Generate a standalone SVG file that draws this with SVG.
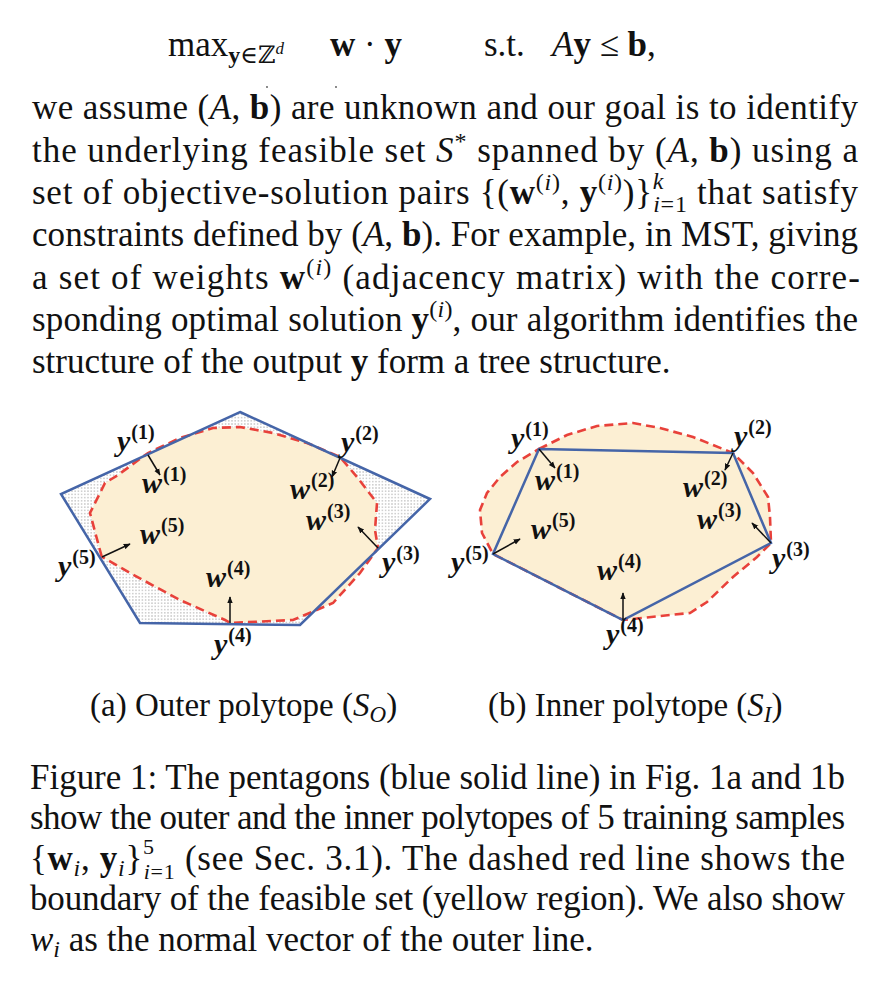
<svg xmlns="http://www.w3.org/2000/svg" width="876" height="998" viewBox="0 0 876 998">
<style>
.t{font-family:"Liberation Serif","DejaVu Serif",serif;font-size:35px;fill:#111}
.i{font-style:italic}
.b{font-weight:bold}
.s{font-size:24px}
.sc{font-family:"Liberation Serif","DejaVu Serif",serif;font-size:33px;fill:#111}
.lbl{font-family:"Liberation Serif","DejaVu Serif",serif;font-size:30px;font-weight:bold;font-style:italic;fill:#111}
.sup{font-size:20px;font-style:normal}
.pent{fill:none;stroke:#4565a8;stroke-width:2.5;stroke-linejoin:miter}
.feas{fill:#fcefd3;stroke:#e8413a;stroke-width:2.6;stroke-dasharray:9 5}
.arr{stroke:#111;stroke-width:1.5;fill:none;marker-end:url(#ah)}
</style>
<defs>
<pattern id="dots" width="3.2" height="3.2" patternUnits="userSpaceOnUse"><rect width="3.2" height="3.2" fill="#fff"/><circle cx="1.6" cy="1.6" r="0.6" fill="#8a8a8a"/></pattern>
<marker id="ah" viewBox="0 0 10 10" refX="9" refY="5" markerWidth="7" markerHeight="7" markerUnits="userSpaceOnUse" orient="auto"><path d="M0,1 L10,5 L0,9 z" fill="#111"/></marker>
</defs>
<rect width="876" height="998" fill="#fff"/>

<g id="body-text">
<text class="t" y="56"><tspan x="168">max</tspan><tspan class="s" dy="7"><tspan class="b">y</tspan>∈ℤ<tspan font-size="17" class="i" dy="-9">d</tspan></tspan><tspan x="330" dy="2" class="b">w</tspan> · <tspan class="b">y</tspan><tspan x="484">s.t.</tspan><tspan x="552" class="i">A</tspan><tspan class="b">y</tspan> ≤ <tspan class="b">b</tspan>,</text>
<circle cx="267" cy="87" r="0.9" fill="#555"/><circle cx="336" cy="87" r="0.9" fill="#555"/>
<text class="t" x="32" y="119" textLength="826" lengthAdjust="spacing">we assume (<tspan class="i">A</tspan>, <tspan class="b">b</tspan>) are unknown and our goal is to identify</text>
<text class="t" x="32" y="161.5" textLength="826" lengthAdjust="spacing">the underlying feasible set <tspan class="i">S</tspan><tspan class="s" dy="-13">*</tspan><tspan dy="13"> spanned by (</tspan><tspan class="i">A</tspan>, <tspan class="b">b</tspan>) using a</text>
<text class="t" x="32" y="204" textLength="826" lengthAdjust="spacing">set of objective-solution pairs {(<tspan class="b">w</tspan><tspan class="s" dy="-14">(<tspan class="i">i</tspan>)</tspan><tspan dy="14">, </tspan><tspan class="b">y</tspan><tspan class="s" dy="-14">(<tspan class="i">i</tspan>)</tspan><tspan dy="14">)}</tspan><tspan class="s i" dy="-15">k</tspan><tspan class="s" dx="-11" dy="23"><tspan class="i">i</tspan>=1</tspan><tspan dy="-8"> that satisfy</tspan></text>
<text class="t" x="32" y="246" textLength="826" lengthAdjust="spacing">constraints defined by (<tspan class="i">A</tspan>, <tspan class="b">b</tspan>). For example, in MST, giving</text>
<text class="t" x="32" y="288.5" textLength="828" lengthAdjust="spacing">a set of weights <tspan class="b">w</tspan><tspan class="s" dy="-14">(<tspan class="i">i</tspan>)</tspan><tspan dy="14"> (adjacency matrix) with the corre-</tspan></text>
<text class="t" x="32" y="331" textLength="826" lengthAdjust="spacing">sponding optimal solution <tspan class="b">y</tspan><tspan class="s" dy="-14">(<tspan class="i">i</tspan>)</tspan><tspan dy="14">, our algorithm identifies the</tspan></text>
<text class="t" x="32" y="373">structure of the output <tspan class="b">y</tspan> form a tree structure.</text>
</g>

<g id="fig-a">
<polygon id="outer-fill" points="240,412 430,499 300,625 140,623 61,494" fill="url(#dots)"/>
<polygon id="feasible-a" class="feas" points="101.7,556.7 90,513 105,483 118,475 148,453 180,438 213,428 240,427 273,433 307,443 340,457 357,477 377,503 375,530 378,548 360,573 333,603 293,620 230,623 225,620 180,600 130,573"/>
<polygon id="outer-polytope" class="pent" points="240,412 430,499 300,625 140,623 61,494"/>
</g>

<g id="fig-b">
<polygon id="feasible-b" class="feas" points="539,449 567,435 597,426 633,423 660,428 693,437 733,453 753,473 768,497 770,517 771,543 757,557 733,577 707,602 690,613 660,616 623,620 493,554 482,533 480,510 487,493 500,477 517,462"/>
<polygon id="inner-polytope" class="pent" points="539,449 733,453 771,543 623,620 493,554"/>
</g>

<g id="connectors">
<line class="arr" x1="148" y1="455" x2="160" y2="475"/>
<line class="arr" x1="340" y1="458" x2="332" y2="477"/>
<line class="arr" x1="378" y1="548" x2="358" y2="527"/>
<line class="arr" x1="230" y1="623" x2="230" y2="597"/>
<line class="arr" x1="102" y1="557" x2="130" y2="544"/>
<line class="arr" x1="539" y1="449" x2="555" y2="468"/>
<line class="arr" x1="733" y1="453" x2="725" y2="470"/>
<line class="arr" x1="771" y1="543" x2="752" y2="523"/>
<line class="arr" x1="623" y1="620" x2="623" y2="593"/>
<line class="arr" x1="493" y1="554" x2="520" y2="539"/>
</g>

<g id="labels-a">
<text class="lbl" x="117" y="451">y<tspan class="sup" dx="1" dy="-12">(1)</tspan></text>
<text class="lbl" x="142" y="493">w<tspan class="sup" dx="1" dy="-12">(1)</tspan></text>
<text class="lbl" x="341" y="452">y<tspan class="sup" dx="1" dy="-12">(2)</tspan></text>
<text class="lbl" x="290" y="499">w<tspan class="sup" dx="1" dy="-12">(2)</tspan></text>
<text class="lbl" x="306" y="530">w<tspan class="sup" dx="1" dy="-12">(3)</tspan></text>
<text class="lbl" x="382" y="572">y<tspan class="sup" dx="1" dy="-12">(3)</tspan></text>
<text class="lbl" x="140" y="544">w<tspan class="sup" dx="1" dy="-12">(5)</tspan></text>
<text class="lbl" x="58" y="576">y<tspan class="sup" dx="1" dy="-12">(5)</tspan></text>
<text class="lbl" x="206" y="587">w<tspan class="sup" dx="1" dy="-12">(4)</tspan></text>
<text class="lbl" x="214" y="654">y<tspan class="sup" dx="1" dy="-12">(4)</tspan></text>
</g>
<g id="labels-b">
<text class="lbl" x="511" y="448">y<tspan class="sup" dx="1" dy="-12">(1)</tspan></text>
<text class="lbl" x="535" y="490">w<tspan class="sup" dx="1" dy="-12">(1)</tspan></text>
<text class="lbl" x="734" y="446">y<tspan class="sup" dx="1" dy="-12">(2)</tspan></text>
<text class="lbl" x="683" y="497">w<tspan class="sup" dx="1" dy="-12">(2)</tspan></text>
<text class="lbl" x="697" y="529">w<tspan class="sup" dx="1" dy="-12">(3)</tspan></text>
<text class="lbl" x="772" y="568">y<tspan class="sup" dx="1" dy="-12">(3)</tspan></text>
<text class="lbl" x="531" y="539">w<tspan class="sup" dx="1" dy="-12">(5)</tspan></text>
<text class="lbl" x="451" y="572">y<tspan class="sup" dx="1" dy="-12">(5)</tspan></text>
<text class="lbl" x="597" y="580">w<tspan class="sup" dx="1" dy="-12">(4)</tspan></text>
<text class="lbl" x="606" y="644">y<tspan class="sup" dx="1" dy="-12">(4)</tspan></text>
</g>

<g id="subcaptions">
<text class="sc" x="90" y="716">(a) Outer polytope (<tspan class="i">S</tspan><tspan class="i" font-size="23" dy="6">O</tspan><tspan dy="-6">)</tspan></text>
<text class="sc" x="488" y="716">(b) Inner polytope (<tspan class="i">S</tspan><tspan class="i" font-size="23" dy="6">I</tspan><tspan dy="-6">)</tspan></text>
</g>

<g id="caption">
<text class="t" x="30" y="789" textLength="815" lengthAdjust="spacing">Figure 1: The pentagons (blue solid line) in Fig. 1a and 1b</text>
<text class="t" x="30" y="829" textLength="815" lengthAdjust="spacing">show the outer and the inner polytopes of 5 training samples</text>
<text class="t" x="30" y="870" textLength="815" lengthAdjust="spacing">{<tspan class="b">w</tspan><tspan class="s i" dy="6">i</tspan><tspan dy="-6">, </tspan><tspan class="b">y</tspan><tspan class="s i" dy="6">i</tspan><tspan dy="-6">}</tspan><tspan font-size="22" dy="-16">5</tspan><tspan font-size="22" dx="-11" dy="25"><tspan class="i">i</tspan>=1</tspan><tspan dy="-9"> (see Sec. 3.1). The dashed red line shows the</tspan></text>
<text class="t" x="30" y="910" textLength="815" lengthAdjust="spacing">boundary of the feasible set (yellow region). We also show</text>
<text class="t" x="30" y="951"><tspan class="i">w</tspan><tspan class="s i" dy="6">i</tspan><tspan dy="-6"> as the normal vector of the outer line.</tspan></text>
</g>
</svg>
